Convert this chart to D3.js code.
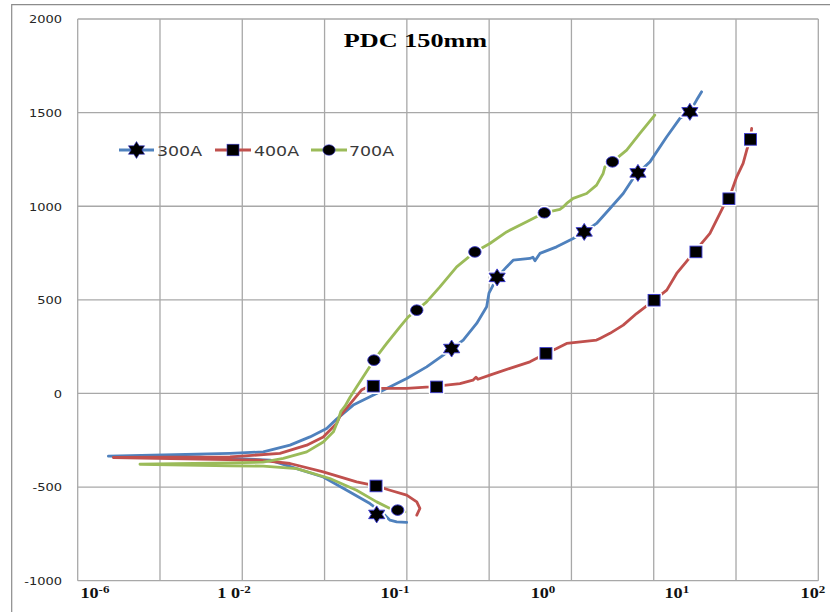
<!DOCTYPE html>
<html>
<head>
<meta charset="utf-8">
<script src="https://cdn.jsdelivr.net/npm/d3@7/dist/d3.min.js"></script>
<style>
  html, body { margin: 0; padding: 0; background: #fff; }
  svg { display: block; }
</style>
</head>
<body>
<svg id="chart" width="830" height="612"></svg>
<script>
// Polarisation curves: [current density, potential]; each runs from the
// cathodic end, through the corrosion potential, out along the anodic branch.
const series300 = [
  [9.95e-4,-689],[7.52e-4,-686],[6.24e-4,-677],[5.16e-4,-641],[3.56e-4,-588],[1.86e-4,-517],
  [9.64e-5,-446],[4.58e-5,-401],[2.17e-5,-356],[3.06e-6,-340],[2.36e-7,-335],
  [7.1e-6,-320],[1.8e-5,-312],[3.8e-5,-276],[6.65e-5,-232],[1.06e-4,-187],[1.40e-4,-137],
  [2.23e-4,-62],[3.56e-4,-18],[5.69e-4,27],[9.95e-4,80],[1.74e-3,142],[2.77e-3,205],
  [4.84e-3,285],[7.05e-3,374],[9.33e-3,463],[9.95e-3,536],[1.25e-2,620],[1.63e-2,676],
  [1.96e-2,712],[3.13e-2,721],[3.40e-2,728],[3.61e-2,709],[4.14e-2,748],[6.61e-2,783],
  [0.105,828],[0.143,863],[0.202,908],[0.294,988],[0.426,1068],[0.564,1149],[0.643,1178],
  [0.900,1237],[1.44,1371],[2.08,1469],[2.75,1504],[3.32,1567],[3.82,1611]
];
const series400 = [
  [1.32e-3,-650],[1.44e-3,-614],[1.32e-3,-579],[9.95e-4,-543],[6.24e-4,-517],[4.22e-4,-494],
  [2.45e-4,-472],[9.64e-5,-419],[3.8e-5,-374],[1.64e-5,-356],[2.71e-7,-342],
  [7.1e-6,-339],[2.87e-5,-320],[6.07e-5,-276],[9.64e-5,-232],[1.40e-4,-160],[1.54e-4,-121],
  [2.23e-4,-36],[2.84e-4,20],[3.36e-4,36],[4.71e-4,27],[9.95e-4,27],[1.91e-3,35],[4.42e-3,53],
  [6.35e-3,71],[6.92e-3,87],[7.31e-3,76],[1.02e-2,98],[1.79e-2,134],[3.13e-2,169],[4.90e-2,214],
  [6.61e-2,240],[8.75e-2,267],[0.202,285],[0.222,294],[0.294,321],[0.426,365],[0.619,427],
  [0.900,481],[1.01,498],[1.44,552],[1.90,641],[3.02,748],[4.82,855],[6.98,997],[8.20,1040],
  [10.2,1157],[12.2,1229],[13.5,1300],[14.9,1357],[15.5,1416]
];
const series700 = [
  [9.48e-4,-632],[6.24e-4,-614],[4.30e-4,-579],[2.45e-4,-517],[1.16e-4,-454],[4.58e-5,-401],
  [1.80e-5,-388],[7.1e-6,-386],[5.71e-7,-378],
  [7.1e-6,-371],[1.79e-5,-367],[3.15e-5,-347],[6.07e-5,-312],[9.64e-5,-259],[1.28e-4,-205],
  [1.46e-4,-143],[1.58e-4,-95],[1.77e-4,-68],[2.04e-4,-20],[2.45e-4,35],[2.95e-4,89],
  [3.98e-4,178],[5.69e-4,267],[8.24e-4,356],[1.04e-3,409],[1.32e-3,445],[1.74e-3,489],
  [2.52e-3,569],[4.03e-3,676],[6.71e-3,756],[1.02e-2,801],[1.63e-2,863],[2.86e-2,917],
  [4.68e-2,965],[7.24e-2,983],[7.88e-2,995],[8.75e-2,1015],[0.105,1042],[0.153,1068],
  [0.202,1113],[0.243,1175],[0.255,1210],[0.315,1237],[0.469,1300],[0.679,1389],[1.03,1487]
];

// Marker points along each curve
const markers300 = [[4.30e-4,-646],[3.50e-3,240],[1.25e-2,620],[0.143,863],[0.643,1178],[2.75,1504]];
const markers400 = [[4.22e-4,-494],[3.91e-4,39],[2.30e-3,35],[4.90e-2,214],[1.01,498],[3.26,756],[8.20,1040],[15.0,1357]];
const markers700 = [[7.73e-4,-623],[3.98e-4,178],[1.32e-3,445],[6.71e-3,756],[4.68e-2,965],[0.315,1237]];

const seriesNames = ["300A", "400A", "700A"];
const yTicks = [-1000, -500, 0, 500, 1000, 1500, 2000];
const xDecades = [1e-7, 1e-6, 1e-5, 1e-4, 1e-3, 1e-2, 1e-1, 1e0, 1e1, 1e2];
const xTickBase = ["10", "1 0", "10", "10", "10", "10"];
const xTickExp = ["-6", "-2", "-1", "0", "1", "2"];
const xTickAt = [1.62e-7, 7.94e-6, 7.16e-4, 4.51e-2, 1.91, 85.9];
const chartTitle = "PDC 150mm";

(function () {
  const svg = d3.select("#chart");
  const pLeft = 77.7, pRight = 818.3, pTop = 19, pBottom = 580.7;

  const x = d3.scaleLog().domain([1e-7, 1e2]).range([pLeft, pRight]);
  const y = d3.scaleLinear().domain([-1000, 2000]).range([pBottom, pTop]);

  // outer chart frame
  svg.append("path")
    .attr("d", "M11.7,612 L11.7,4.7 L830,4.7")
    .attr("fill", "none").attr("stroke", "#8c8c8c").attr("stroke-width", 1.2);

  // gridlines
  const grid = svg.append("g").attr("stroke", "#a8a8a8").attr("stroke-width", 1.3);
  grid.selectAll("line.v").data(xDecades).join("line").attr("class", "v")
    .attr("x1", d => x(d)).attr("x2", d => x(d)).attr("y1", pTop).attr("y2", pBottom);
  grid.selectAll("line.h").data(yTicks).join("line").attr("class", "h")
    .attr("x1", pLeft).attr("x2", pRight).attr("y1", d => y(d)).attr("y2", d => y(d));

  // y axis labels (plain hyphen for negatives)
  const yAxis = d3.axisLeft(y).tickValues(yTicks).tickFormat(d => String(d)).tickSize(0).tickPadding(0);
  const yg = svg.append("g").attr("transform", "translate(62,0)").call(yAxis);
  yg.select(".domain").remove();
  yg.selectAll("text")
    .attr("font-family", "DejaVu Sans, Verdana, sans-serif")
    .attr("font-size", 10.5)
    .attr("fill", "#262626")
    .attr("x", 0)
    .attr("dy", "0.36em")
    .attr("text-anchor", "end")
    .attr("transform", "scale(1.24,1)");

  // x axis labels (power-of-ten with superscript)
  const xl = svg.append("g");
  xTickAt.forEach((v, i) => {
    const t = xl.append("text")
      .attr("transform", `translate(${x(v)},598) scale(1.3,1)`)
      .attr("text-anchor", "middle")
      .attr("font-family", "Liberation Serif, Times New Roman, serif")
      .attr("font-weight", "bold")
      .attr("font-size", 14)
      .attr("fill", "#111");
    t.append("tspan").text(xTickBase[i]);
    t.append("tspan").attr("font-size", 10).attr("dy", -5).text(xTickExp[i]);
  });

  // title
  svg.append("text")
    .attr("transform", "translate(415.5,46.7) scale(1.38,1)")
    .attr("text-anchor", "middle")
    .attr("font-family", "Liberation Serif, Times New Roman, serif")
    .attr("font-weight", "bold")
    .attr("font-size", 19)
    .attr("fill", "#000")
    .text(chartTitle);

  // marker shapes
  function hexagram(R) {
    const r = R / Math.sqrt(3);
    const pts = d3.range(12).map(k => {
      const a = -Math.PI / 2 + k * Math.PI / 6;
      const rad = k % 2 === 0 ? R : r;
      return [rad * Math.cos(a), rad * Math.sin(a)];
    });
    return "M" + pts.map(p => p.join(",")).join("L") + "Z";
  }
  const shapes = {
    star: sel => sel.append("path").attr("d", hexagram(8.5)).attr("transform", "scale(1.1,1)"),
    square: sel => sel.append("rect").attr("x", -6).attr("y", -5.8).attr("width", 12).attr("height", 11.6),
    circle: sel => sel.append("ellipse").attr("rx", 6.2).attr("ry", 5.3)
  };

  const colors = ["#4f81bd", "#c0504d", "#9bbb59"];
  const allSeries = [series300, series400, series700];
  const allMarkers = [markers300, markers400, markers700];
  const markerKinds = ["star", "square", "circle"];

  const line = d3.line().x(d => x(d[0])).y(d => y(d[1]));

  const plot = svg.append("g");
  allSeries.forEach((s, i) => {
    plot.append("path")
      .attr("d", line(s))
      .attr("fill", "none")
      .attr("stroke", colors[i])
      .attr("stroke-width", 2.8)
      .attr("stroke-linejoin", "round")
      .attr("stroke-linecap", "round");
  });

  function drawMarker(parent, kind, cx, cy) {
    const g = parent.append("g").attr("transform", `translate(${cx},${cy})`);
    shapes[kind](g).attr("fill", "#fff").attr("stroke", "#fff").attr("stroke-width", 4).attr("stroke-linejoin", "round");
    shapes[kind](g).attr("fill", "#000").attr("stroke", "#3c3cd0").attr("stroke-width", 0.9);
  }

  allMarkers.forEach((ms, i) => {
    ms.forEach(d => drawMarker(plot, markerKinds[i], x(d[0]), y(d[1])));
  });

  // legend
  const legend = svg.append("g");
  const legendItems = [
    { x0: 119, x1: 154, text: 157 },
    { x0: 215, x1: 251, text: 254 },
    { x0: 311, x1: 347, text: 349 }
  ];
  legendItems.forEach((it, i) => {
    legend.append("line")
      .attr("x1", it.x0).attr("x2", it.x1).attr("y1", 150).attr("y2", 150)
      .attr("stroke", colors[i]).attr("stroke-width", 2.8);
    const g = legend.append("g").attr("transform", `translate(${(it.x0 + it.x1) / 2},150)`);
    shapes[markerKinds[i]](g).attr("fill", "#000").attr("stroke", "#3c3cd0").attr("stroke-width", 0.6);
    legend.append("text")
      .attr("transform", `translate(${it.text},155.5) scale(1.2,1)`)
      .attr("font-family", "DejaVu Sans, Verdana, sans-serif")
      .attr("font-size", 14.5)
      .attr("fill", "#3a3a3a")
      .text(seriesNames[i]);
  });
})();
</script>
</body>
</html>
